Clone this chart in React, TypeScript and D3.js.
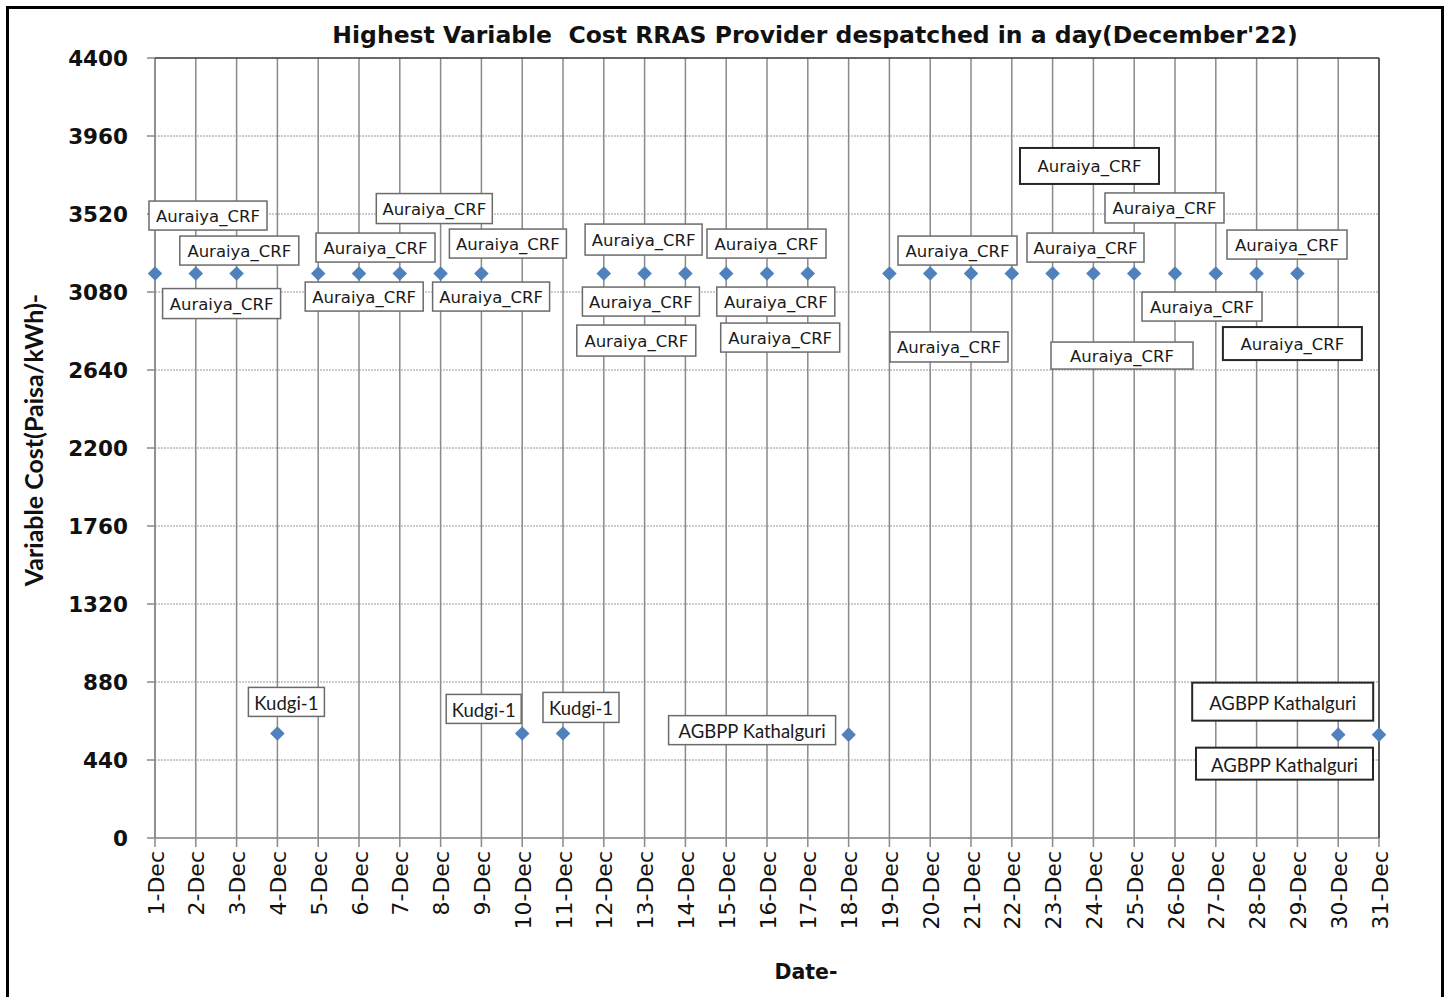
import * as d3 from "d3";

// one point per day: the provider with the highest variable cost despatched
const dates = [
  "1-Dec", "2-Dec", "3-Dec", "4-Dec", "5-Dec", "6-Dec", "7-Dec", "8-Dec",
  "9-Dec", "10-Dec", "11-Dec", "12-Dec", "13-Dec", "14-Dec", "15-Dec",
  "16-Dec", "17-Dec", "18-Dec", "19-Dec", "20-Dec", "21-Dec", "22-Dec",
  "23-Dec", "24-Dec", "25-Dec", "26-Dec", "27-Dec", "28-Dec", "29-Dec",
  "30-Dec", "31-Dec",
];

const providers = [
  "Auraiya_CRF", "Auraiya_CRF", "Auraiya_CRF", "Kudgi-1",
  "Auraiya_CRF", "Auraiya_CRF", "Auraiya_CRF", "Auraiya_CRF", "Auraiya_CRF",
  "Kudgi-1", "Kudgi-1",
  "Auraiya_CRF", "Auraiya_CRF", "Auraiya_CRF", "Auraiya_CRF", "Auraiya_CRF", "Auraiya_CRF",
  "AGBPP Kathalguri",
  "Auraiya_CRF", "Auraiya_CRF", "Auraiya_CRF", "Auraiya_CRF", "Auraiya_CRF", "Auraiya_CRF",
  "Auraiya_CRF", "Auraiya_CRF", "Auraiya_CRF", "Auraiya_CRF", "Auraiya_CRF",
  "AGBPP Kathalguri", "AGBPP Kathalguri",
];

const costs = [
  3184, 3184, 3184, 590,
  3184, 3184, 3184, 3184, 3184,
  590, 590,
  3184, 3184, 3184, 3184, 3184, 3184,
  583,
  3184, 3184, 3184, 3184, 3184, 3184,
  3184, 3184, 3184, 3184, 3184,
  583, 583,
];

const yTicks = [0, 440, 880, 1320, 1760, 2200, 2640, 3080, 3520, 3960, 4400];

// data label boxes, placed by hand like in the sheet: [dx, dy, w, h, dark border]
type Box = [number, number, number, number, boolean] | null;
const labelBoxes: Box[] = [
  [53, -58, 118, 29, false],
  [43.5, -23, 119, 29, false],
  [-15, 30, 118, 30, false],
  [9, -31.5, 76, 29, false],
  [46, 23, 118, 29, false],
  [16.5, -26, 119, 29, false],
  [34.5, -65, 116, 30, false],
  [50.5, 23, 117, 29, false],
  [26.5, -30, 117, 29, false],
  [-38.5, -24.5, 75, 29, false],
  [18, -26, 76, 30, false],
  [32.5, 67, 119, 31, false],
  [-1, -34, 117, 31, false],
  [-44.5, 28, 117, 29, false],
  [54, 64, 119, 29, false],
  [-0.5, -30, 119, 29, false],
  [-32, 28, 118, 29, false],
  [-96.5, -4.5, 167, 29, false],
  [59.6, 73.4, 118, 30, false],
  [27.3, -23, 119, 29, false],
  null,
  [77.7, -107.6, 139, 36, true],
  [32.9, -26, 117, 29, false],
  [28.6, 82, 142, 27, false],
  [30.3, -65.6, 119, 30, false],
  [27, 33, 120, 29, false],
  null,
  [30.4, -29, 120, 29, false],
  [-5, 70, 139, 33, true],
  [-55.5, -33, 181, 38, true],
  [-94.5, 29, 177, 32, true],
];

const width = 1451;
const height = 997;
const left = 155;
const right = 1379;
const top = 58;
const bottom = 838;

export default function App() {
  const x = d3.scaleLinear([1, dates.length], [left, right]);
  const y = d3.scaleLinear([0, 4400], [bottom, top]);
  const diamond = d3.symbol(d3.symbolSquare, 106)() as string;

  return (
    <svg
      width={width}
      height={height}
      style={{ position: "absolute", left: 0, top: 0, background: "#fff" }}
    >
      <rect x={7.5} y={7.5} width={1435} height={1010} fill="#fff" stroke="#000" strokeWidth={3} />

      {/* horizontal dotted grid */}
      {yTicks.map((t) => (
        <line
          key={"h" + t}
          x1={left}
          x2={right}
          y1={y(t)}
          y2={y(t)}
          stroke="#9a9a9a"
          strokeWidth={1}
          strokeDasharray="2,1"
        />
      ))}
      {/* vertical grid, one per day */}
      {dates.map((d, i) => (
        <line
          key={"v" + d}
          x1={x(i + 1)}
          x2={x(i + 1)}
          y1={top}
          y2={bottom + 9}
          stroke="#8a8a8a"
          strokeWidth={1.5}
        />
      ))}
      {/* axes */}
      <line x1={left} x2={left} y1={top} y2={bottom} stroke="#8a8a8a" strokeWidth={1.5} />
      <line x1={left} x2={right} y1={bottom} y2={bottom} stroke="#8a8a8a" strokeWidth={1.5} />
      {yTicks.map((t) => (
        <line key={"yt" + t} x1={left - 8} x2={left} y1={y(t)} y2={y(t)} stroke="#8a8a8a" strokeWidth={1.5} />
      ))}
      <line x1={left} x2={right} y1={top} y2={top} stroke="#404040" strokeWidth={1.5} />
      <line x1={right} x2={right} y1={top} y2={bottom} stroke="#404040" strokeWidth={1.5} />

      {/* y tick labels */}
      {yTicks.map((t) => (
        <text
          key={"yl" + t}
          x={128}
          y={y(t)}
          textAnchor="end"
          dominantBaseline="central"
          fontFamily="DejaVu Sans"
          fontWeight="bold"
          fontSize={21.5}
          fill="#111"
        >
          {t}
        </text>
      ))}

      {/* x tick labels */}
      {dates.map((d, i) => (
        <text
          key={"xl" + d}
          transform={`translate(${x(i + 1) + 1},851) rotate(-90)`}
          textAnchor="end"
          dominantBaseline="central"
          fontFamily="DejaVu Sans"
          fontSize={22}
          fill="#111"
        >
          {d}
        </text>
      ))}

      {/* points */}
      {costs.map((c, i) => (
        <path
          key={"p" + i}
          d={diamond}
          transform={`translate(${x(i + 1)},${y(c)}) rotate(45)`}
          fill="#4F81BD"
        />
      ))}

      {/* data labels */}
      {labelBoxes.map((b, i) => {
        if (!b) return null;
        const [dx, dy, w, h, dark] = b;
        const cx = x(i + 1) + dx;
        const cy = y(costs[i]) + dy;
        const isAur = providers[i] === "Auraiya_CRF";
        return (
          <g key={"lb" + i}>
            <rect
              x={cx - w / 2}
              y={cy - h / 2}
              width={w}
              height={h}
              fill="#fff"
              stroke={dark ? "#262626" : "#6b6b6b"}
              strokeWidth={dark ? 2 : 1.5}
            />
            <text
              x={cx}
              y={cy + 1}
              textAnchor="middle"
              dominantBaseline="central"
              fontFamily={isAur ? "DejaVu Sans" : "Lato"}
              fontSize={isAur ? 16.5 : 18.5}
              fill="#1a1a1a"
            >
              {providers[i]}
            </text>
          </g>
        );
      })}

      {/* titles */}
      <text
        x={815}
        y={43}
        textAnchor="middle"
        fontFamily="DejaVu Sans"
        fontWeight="bold"
        fontSize={23.5}
        fill="#111"
        style={{ whiteSpace: "pre" }}
      >
        {"Highest Variable  Cost RRAS Provider despatched in a day(December'22)"}
      </text>
      <text
        transform="translate(43,440) rotate(-90)"
        textAnchor="middle"
        fontFamily="Lato"
        fontWeight="bold"
        fontSize={25}
        fill="#111"
      >
        Variable Cost(Paisa/kWh)-
      </text>
      <text
        x={806}
        y={979}
        textAnchor="middle"
        fontFamily="DejaVu Sans"
        fontWeight="bold"
        fontSize={20.5}
        fill="#111"
      >
        Date-
      </text>
    </svg>
  );
}
